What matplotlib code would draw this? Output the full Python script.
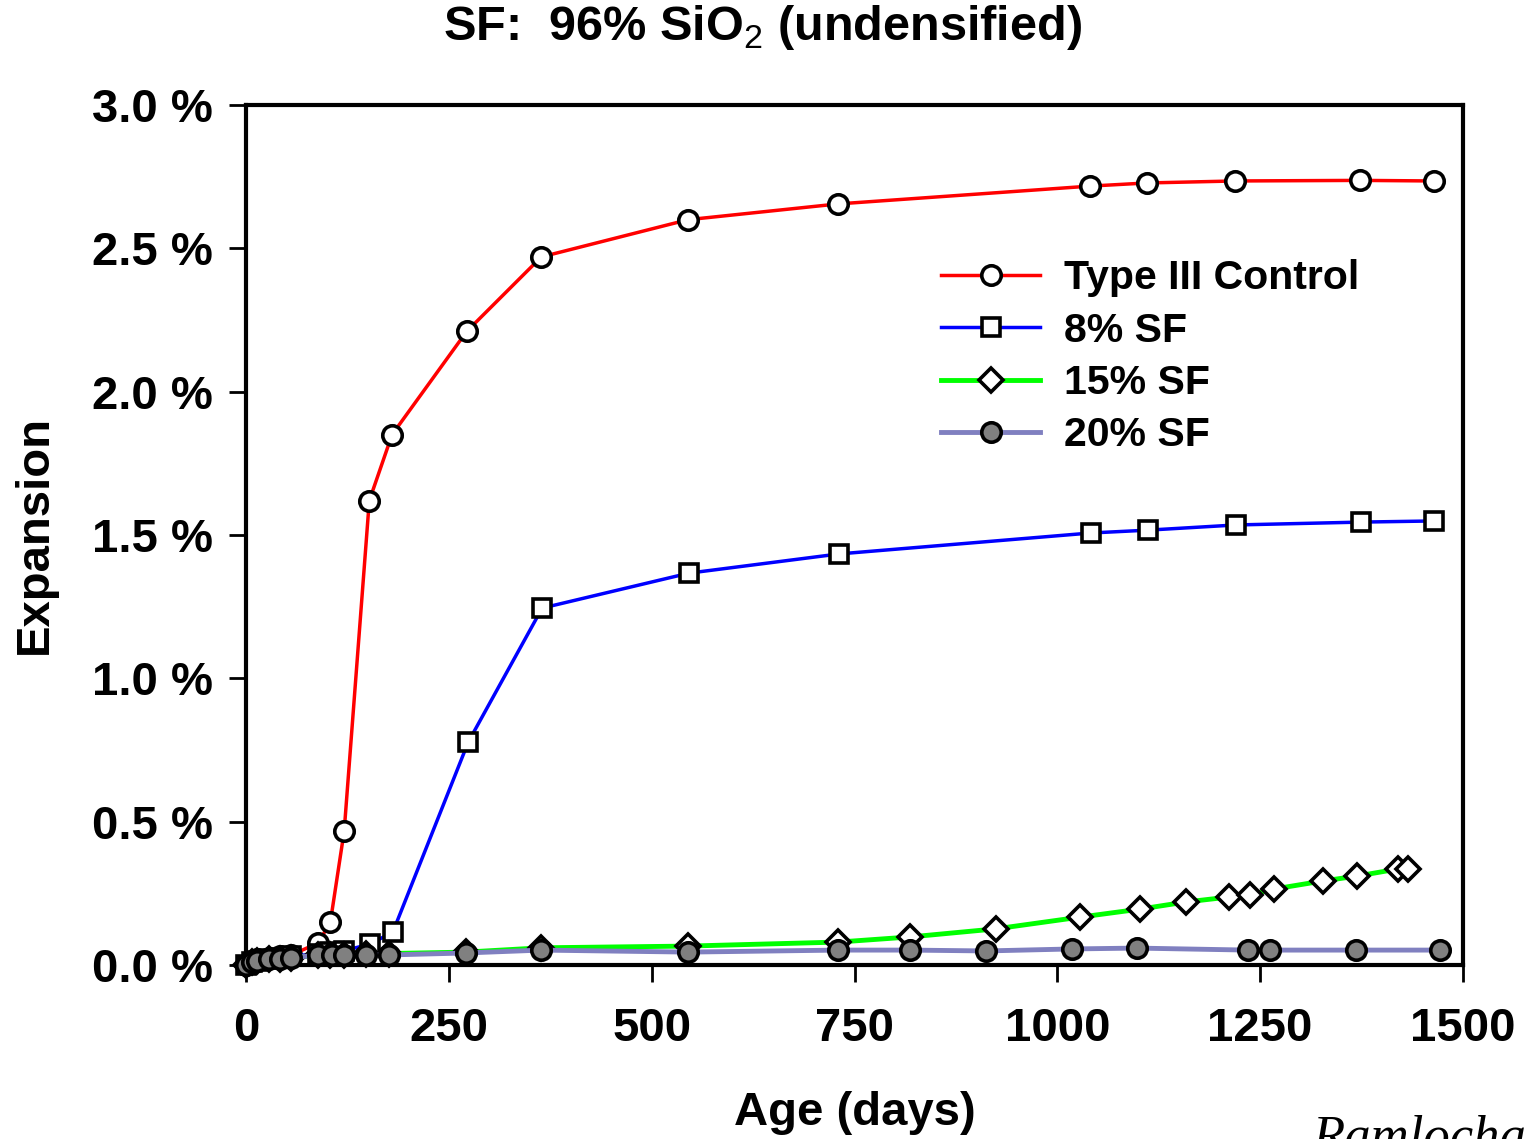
import matplotlib.pyplot as plt

plt.rcParams['font.family'] = ['Liberation Sans', 'DejaVu Sans']
plt.rcParams['mathtext.fontset'] = 'custom'
plt.rcParams['mathtext.rm'] = 'Liberation Sans'

# Type III control
ctrl_days = [0, 7, 14, 28, 42, 56, 89, 104, 121, 152, 180, 272, 364, 545, 730,
             1040, 1110, 1219, 1373, 1464]
ctrl = [0.0, 0.01, 0.02, 0.025, 0.03, 0.035, 0.077, 0.15, 0.467, 1.62, 1.85,
        2.21, 2.47, 2.60, 2.655, 2.717, 2.728, 2.735, 2.737, 2.735]

# 8% SF
sf8_days = [0, 7, 14, 28, 42, 56, 89, 104, 121, 153, 181, 274, 365, 546, 731,
            1041, 1112, 1220, 1374, 1464]
sf8 = [0.0, 0.01, 0.015, 0.02, 0.025, 0.03, 0.04, 0.045, 0.05, 0.073, 0.115,
       0.778, 1.245, 1.367, 1.434, 1.507, 1.517, 1.535, 1.545, 1.549]

# 15% SF
sf15_days = [0, 7, 14, 28, 42, 56, 89, 104, 121, 148, 176, 271, 364, 545, 730,
             819, 924, 1028, 1102, 1159, 1211, 1237, 1267, 1327, 1369, 1420, 1432]
sf15 = [0.0, 0.01, 0.015, 0.02, 0.02, 0.025, 0.035, 0.035, 0.035, 0.04, 0.04,
        0.045, 0.06, 0.066, 0.08, 0.098, 0.126, 0.167, 0.195, 0.22, 0.237,
        0.244, 0.265, 0.293, 0.31, 0.335, 0.335]

# 20% SF
sf20_days = [0, 7, 14, 28, 42, 56, 89, 106, 121, 148, 176, 271, 364, 545, 730,
             819, 912, 1018, 1098, 1235, 1262, 1368, 1472]
sf20 = [0.0, 0.01, 0.015, 0.02, 0.02, 0.025, 0.035, 0.035, 0.035, 0.035, 0.035,
        0.042, 0.052, 0.045, 0.052, 0.052, 0.049, 0.056, 0.059, 0.052, 0.052,
        0.052, 0.052]

W, H = 1525, 1139
fig = plt.figure(figsize=(W / 100, H / 100), dpi=100)
ax = fig.add_axes([246 / W, 1 - 965 / H, 1217 / W, 860 / H])

ms = 14
mew = 2.6
lw = 2.5
ax.plot(ctrl_days, ctrl, color='#ff0000', lw=lw, marker='o', ms=ms, mfc='white',
        mec='black', mew=mew, clip_on=False, label='Type III Control', zorder=3)
ax.plot(sf8_days, sf8, color='#0000ff', lw=lw, marker='s', ms=ms - 1, mfc='white',
        mec='black', mew=mew, clip_on=False, label='8% SF', zorder=4)
ax.plot(sf15_days, sf15, color='#00ff00', lw=lw + 1, marker='D', ms=ms - 2, mfc='white',
        mec='black', mew=mew, clip_on=False, label='15% SF', zorder=5)
ax.plot(sf20_days, sf20, color='#8080c0', lw=lw + 1, marker='o', ms=ms, mfc='#808080',
        mec='black', mew=mew, clip_on=False, label='20% SF', zorder=6)

ax.set_xlim(0, 1500)
ax.set_ylim(0, 3.0)
ax.set_xticks([0, 250, 500, 750, 1000, 1250, 1500])
ax.set_yticks([0, 0.5, 1.0, 1.5, 2.0, 2.5, 3.0])
ax.set_yticklabels([f'{v:.1f} %' for v in ax.get_yticks()])
ax.tick_params(direction='out', length=12, width=2, labelsize=34)
ax.tick_params(axis='y', pad=12)
ax.tick_params(axis='x', pad=18)
for lab in ax.get_xticklabels() + ax.get_yticklabels():
    lab.set_fontweight('bold')
for sp in ax.spines.values():
    sp.set_linewidth(3)

fig.text(855 / W, 1 - 1113 / H, 'Age (days)', ha='center', va='center',
         fontsize=34, fontweight='bold')
fig.text(35 / W, 1 - 535 / H, 'Expansion', ha='center', va='center',
         rotation=90, fontsize=34, fontweight='bold')

fig.text(0.5, 1 - 28 / H, r'SF:  96% SiO$_2$ (undensified)', ha='center',
         va='center', fontsize=35, fontweight='bold')

ax.legend(loc='upper left', bbox_to_anchor=(925 / W, 1 - 243 / H),
          bbox_transform=fig.transFigure, frameon=False,
          prop={'weight': 'bold', 'size': 29.5}, handlelength=2.4,
          handletextpad=0.6, labelspacing=0.35, borderaxespad=0)

fig.text(1312 / W, 1 - 1114 / H, 'Ramlochan', family='Liberation Serif',
         style='italic', fontsize=38, va='top', ha='left')

fig.savefig('out.png', dpi=100)
